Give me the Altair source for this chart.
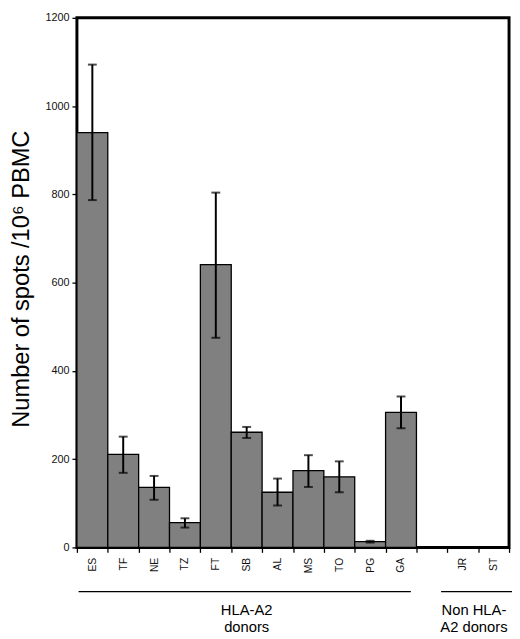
"""Bar chart of ELISpot counts per donor, with error bars and donor-group brackets."""

import altair as alt
import pandas as pd


FONT = "Liberation Sans"

donors = ["ES", "TF", "NE", "TZ", "FT", "SB", "AL", "MS", "TO", "PG", "GA", " ", "JR", "ST"]
spots = [940, 211, 136, 56, 641, 261, 125, 174, 160, 13, 306, None, 0, 0]
err_low = [787, 169, 108, 45, 475, 248, 95, 137, 125, 11, 270, None, None, None]
err_high = [1094, 251, 162, 66, 804, 273, 156, 209, 195, 15, 342, None, None, None]
y_ticks = [0, 200, 400, 600, 800, 1000, 1200]

# donor groups drawn under the axis: label, first donor, last donor, donor under the text
group_labels = ["HLA-A2\ndonors", "Non HLA-\nA2 donors"]
group_first = ["ES", "JR"]
group_last = ["GA", "ST"]
group_anchor = ["SB", "ST"]

PLOT_W = 439
PLOT_H = 538

df = pd.DataFrame({"donor": donors, "spots": spots, "low": err_low, "high": err_high})
bars_df = df.dropna(subset=["spots"])
err_df = df.dropna(subset=["low"])

x_enc = alt.X(
    "donor:N",
    sort=donors,
    scale=alt.Scale(domain=donors, paddingInner=0, paddingOuter=0),
    axis=alt.Axis(
        title=None,
        labelAngle=270,
        labelFontSize=10.5,
        labelPadding=5,
        tickSize=5,
        tickBand="extent",
    ),
)

y_enc = alt.Y(
    "spots:Q",
    scale=alt.Scale(domain=[0, 1200], nice=False),
    axis=alt.Axis(
        values=y_ticks,
        format="d",
        grid=False,
        tickSize=5,
        labelPadding=3,
        labelFontSize=11,
        title="Number of spots /10⁶ PBMC",
        titleFontSize=24,
        titleFontWeight="normal",
        titleAngle=270,
        titleX=-56,
        titleY=265,
        titleAlign="center",
        titleBaseline="middle",
    ),
)

bars = (
    alt.Chart(bars_df)
    .mark_bar(color="#808080", stroke="black", strokeWidth=1.3)
    .encode(x=x_enc, y=y_enc)
)

whisker = (
    alt.Chart(err_df)
    .mark_rule(color="black", strokeWidth=2)
    .encode(x=x_enc, y=alt.Y("low:Q"), y2="high:Q")
)
cap_low = alt.Chart(err_df).mark_tick(color="black", size=9, thickness=2).encode(x=x_enc, y="low:Q")
cap_high = alt.Chart(err_df).mark_tick(color="black", size=9, thickness=2).encode(x=x_enc, y="high:Q")

layers = [bars, whisker, cap_low, cap_high]

# bracket offsets (pixels) so the lines sit where the original ones do
rule_offsets = [(-14, 10), (-22, 20)]
text_dx = [0, -20]
for i, label in enumerate(group_labels):
    gdf = pd.DataFrame(
        {"donor": [group_first[i]], "donor_end": [group_last[i]], "anchor": [group_anchor[i]], "label": [label]}
    )
    line = (
        alt.Chart(gdf)
        .mark_rule(color="black", strokeWidth=1.3, xOffset=rule_offsets[i][0], x2Offset=rule_offsets[i][1])
        .encode(x=x_enc, x2="donor_end:N", y=alt.value(PLOT_H + 45))
    )
    text = (
        alt.Chart(gdf)
        .mark_text(
            font=FONT,
            fontSize=15,
            lineBreak="\n",
            lineHeight=17,
            align="center",
            baseline="alphabetic",
            dx=text_dx[i],
            color="black",
        )
        .encode(x=alt.X("anchor:N", scale=alt.Scale(domain=donors)), y=alt.value(PLOT_H + 69), text="label:N")
    )
    layers += [line, text]

chart = (
    alt.layer(*layers)
    .properties(
        width=PLOT_W,
        height=PLOT_H,
        background="white",
        autosize=alt.AutoSizeParams(type="none"),
        padding={"left": 70, "top": 5, "right": 3, "bottom": 85},
    )
    .configure_view(stroke="black", strokeWidth=3, fill="#ffffff")
    .configure_axis(
        domainColor="black",
        domainWidth=1.3,
        tickColor="black",
        tickWidth=1.3,
        labelFont=FONT,
        labelColor="#111",
        titleFont=FONT,
        titleColor="black",
    )
)

chart.save("out.html", embed_options={"renderer": "svg", "actions": False})
